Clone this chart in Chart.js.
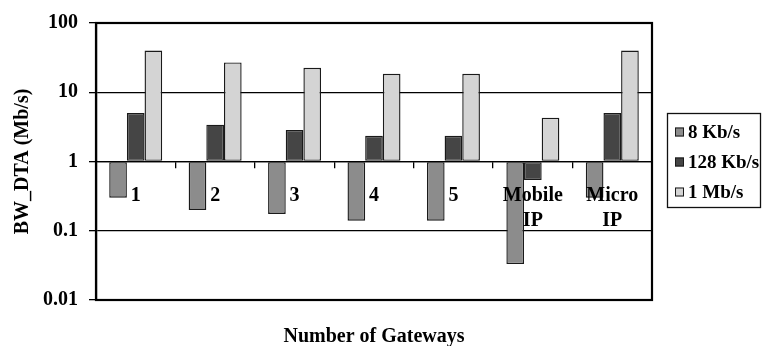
<!DOCTYPE html>
<html>
<head>
<meta charset="utf-8">
<script src="https://cdn.jsdelivr.net/npm/chart.js@4/dist/chart.umd.min.js"></script>
<style>
  html, body { margin: 0; padding: 0; background: #fff; }
  canvas { display: block; }
</style>
</head>
<body>
<canvas id="c" width="762" height="346"></canvas>
<script>
// Gateway categories (multi-line labels as arrays)
const categories = ['1', '2', '3', '4', '5', ['Mobile', 'IP'], ['Micro', 'IP']];
const seriesNames = ['8 Kb/s', '128 Kb/s', '1 Mb/s'];

// BW_DTA in Mb/s for each traffic rate
const bw8k   = [0.30, 0.20, 0.175, 0.14, 0.14, 0.033, 0.30];
const bw128k = [5.0, 3.4, 2.85, 2.35, 2.35, 0.54, 5.0];
const bw1m   = [40, 27, 22.5, 18.5, 18.5, 4.3, 40];

// Decade ticks on the log axis
const yTicks = [0.01, 0.1, 1, 10, 100];
const yTickLabels = ['0.01', '0.1', '1', '10', '100'];

const seriesColors = ['#8c8c8c', '#454545', '#d4d4d4'];
const FONT = 'Liberation Serif';

const series = [bw8k, bw128k, bw1m];
const datasets = series.map((values, i) => ({
  label: seriesNames[i],
  data: values,
  base: 1,
  backgroundColor: seriesColors[i],
  borderColor: '#1a1a1a',
  borderWidth: 1.4,
  borderSkipped: false,
  categoryPercentage: 0.667,
  barPercentage: 1.0
}));

// Plot frame, boxed legend and bottom axis title
const decorations = {
  id: 'decorations',
  afterDraw(chart) {
    const { ctx, chartArea: a } = chart;
    ctx.save();
    ctx.strokeStyle = '#000';
    ctx.lineWidth = 2.2;
    ctx.strokeRect(a.left, a.top, a.right - a.left, a.bottom - a.top);

    // x axis title centred under the plot
    ctx.fillStyle = '#000';
    ctx.font = 'bold 20px "' + FONT + '"';
    ctx.textAlign = 'center';
    ctx.textBaseline = 'middle';
    ctx.fillText('Number of Gateways', (a.left + a.right) / 2, 337);

    // legend box
    const lx = a.right + 15, ly = 113.5, lw = 93, lh = 94;
    ctx.lineWidth = 1.3;
    ctx.strokeStyle = '#111';
    ctx.strokeRect(lx + 0.5, ly, lw, lh);
    ctx.font = 'bold 19px "' + FONT + '"';
    ctx.textAlign = 'left';
    chart.data.datasets.forEach((ds, i) => {
      const cy = 132 + i * 30;
      ctx.fillStyle = ds.backgroundColor;
      ctx.fillRect(lx + 8, cy - 4.5, 9, 9);
      ctx.lineWidth = 1;
      ctx.strokeStyle = '#1a1a1a';
      ctx.strokeRect(lx + 8.5, cy - 4, 8, 8);
      ctx.fillStyle = '#000';
      ctx.fillText(ds.label, lx + 21, cy + 1);
    });
    ctx.restore();
  }
};

new Chart(document.getElementById('c'), {
  type: 'bar',
  data: { labels: categories, datasets },
  options: {
    responsive: false,
    animation: false,
    devicePixelRatio: 1,
    layout: { padding: { left: 11, top: 18, right: 110, bottom: 46 } },
    plugins: {
      legend: { display: false },
      tooltip: { enabled: false }
    },
    scales: {
      x: {
        position: { y: 1 },
        offset: true,
        grid: {
          display: true,
          drawOnChartArea: false,
          drawTicks: true,
          tickLength: 6,
          color: '#000',
          lineWidth: 1.3,
          offset: true
        },
        border: { display: true, color: '#000', width: 1.3 },
        ticks: {
          font: { family: FONT, size: 20, weight: 'bold', lineHeight: 1.25 },
          color: '#000',
          padding: 16,
          z: 1,
          maxRotation: 0,
          autoSkip: false
        }
      },
      y: {
        type: 'logarithmic',
        min: 0.01,
        max: 100,
        afterBuildTicks(scale) {
          scale.ticks = yTicks.map(v => ({ value: v }));
        },
        afterFit(scale) {
          scale.width = 85;
        },
        ticks: {
          callback: (value) => {
            const i = yTicks.indexOf(value);
            return i >= 0 ? yTickLabels[i] : '';
          },
          font: { family: FONT, size: 20, weight: 'bold' },
          color: '#000',
          padding: 11
        },
        grid: { color: '#000', lineWidth: 1.3, tickLength: 7 },
        border: { display: true, color: '#000', width: 2.2 },
        title: {
          display: true,
          text: 'BW_DTA (Mb/s)',
          font: { family: FONT, size: 20, weight: 'bold' },
          color: '#000',
          padding: { top: 0, bottom: 8 }
        }
      }
    }
  },
  plugins: [decorations]
});
</script>
</body>
</html>
